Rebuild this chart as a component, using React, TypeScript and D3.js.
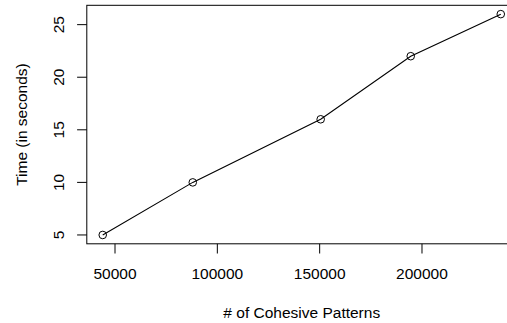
import React from "react";
import * as d3 from "d3";

const patterns = [44000, 88000, 150500, 194500, 238500];
const seconds = [5, 10, 16, 22, 26];
const xTicks = [50000, 100000, 150000, 200000];
const yTicks = [5, 10, 15, 20, 25];

const W = 507;
const H = 323;
const FONT = "'Liberation Sans', Arial, Helvetica, sans-serif";

function extend(ext: [number, number]): [number, number] {
  const r = (ext[1] - ext[0]) * 0.04;
  return [ext[0] - r, ext[1] + r];
}

export default function App() {
  const left = 86.8;
  const right = 516.7;
  const top = 5.3;
  const bottom = 243.8;
  const x = d3
    .scaleLinear()
    .domain(extend(d3.extent(patterns) as [number, number]))
    .range([left, right]);
  const y = d3
    .scaleLinear()
    .domain(extend(d3.extent(seconds) as [number, number]))
    .range([bottom, top]);
  const pts = patterns.map((p, i) => [x(p), y(seconds[i])] as [number, number]);
  const line = d3.line()(pts) || "";
  const fs = 15.5;
  return (
    <svg
      width={W}
      height={H}
      style={{ position: "absolute", left: 0, top: 0, background: "#fff" }}
      fontFamily={FONT}
    >
      <rect x={0} y={0} width={W} height={H} fill="#fff" />
      <rect
        x={left}
        y={top}
        width={right - left}
        height={bottom - top}
        fill="none"
        stroke="#000"
        strokeWidth={1}
      />
      {xTicks.map((t) => (
        <g key={t}>
          <line x1={x(t)} x2={x(t)} y1={bottom} y2={bottom + 9.7} stroke="#000" />
          <text
            x={x(t)}
            y={273}
            fontSize={fs}
            textAnchor="middle"
            dominantBaseline="central"
            fill="#000"
          >
            {t}
          </text>
        </g>
      ))}
      {yTicks.map((t) => (
        <g key={t}>
          <line x1={left - 9.7} x2={left} y1={y(t)} y2={y(t)} stroke="#000" />
          <text
            transform={`translate(58.7,${y(t)}) rotate(-90)`}
            fontSize={fs}
            textAnchor="middle"
            dominantBaseline="central"
            fill="#000"
          >
            {t}
          </text>
        </g>
      ))}
      <text
        x={(left + right) / 2}
        y={312}
        fontSize={fs}
        textAnchor="middle"
        dominantBaseline="central"
        fill="#000"
      >
        # of Cohesive Patterns
      </text>
      <text
        transform={`translate(21.7,${(top + bottom) / 2}) rotate(-90)`}
        fontSize={fs}
        textAnchor="middle"
        dominantBaseline="central"
        fill="#000"
      >
        Time (in seconds)
      </text>
      <path d={line} fill="none" stroke="#000" strokeWidth={1.1} />
      {pts.map((p, i) => (
        <circle key={i} cx={p[0]} cy={p[1]} r={3.8} fill="none" stroke="#000" strokeWidth={1} />
      ))}
    </svg>
  );
}
